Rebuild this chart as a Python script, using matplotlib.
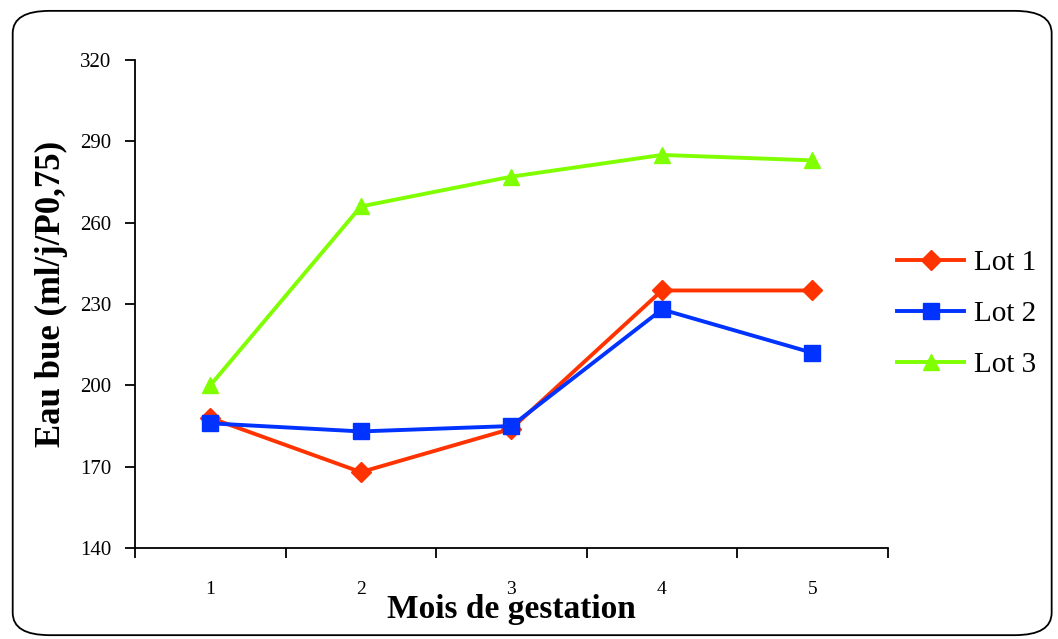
import matplotlib
matplotlib.use("Agg")
import matplotlib.pyplot as plt
from matplotlib.patches import FancyBboxPatch
from matplotlib.ticker import FixedLocator, NullFormatter

plt.rcParams['font.family'] = ['Liberation Serif', 'DejaVu Serif']

mois = [1, 2, 3, 4, 5]
lot1 = [188, 168, 184, 235, 235]
lot2 = [186, 183, 185, 228, 212]
lot3 = [200, 266, 277, 285, 283]

fig = plt.figure(figsize=(10.58, 6.39), dpi=100)

# rounded frame around the whole chart
frame = FancyBboxPatch((0.012, 0.006), 0.982, 0.977, boxstyle="round,pad=0,rounding_size=0.035",
                       transform=fig.transFigure, fill=False, edgecolor='black', linewidth=1.3)
fig.patches.append(frame)

ax = fig.add_axes([0.1276, 0.1424, 0.7115, 0.7636])
ax.plot(mois, lot1, color='#ff3300', lw=2.8, marker='D', ms=10, label='Lot 1')
ax.plot(mois, lot2, color='#0033ff', lw=2.8, marker='s', ms=12, label='Lot 2')
ax.plot(mois, lot3, color='#80ff00', lw=2.8, marker='^', ms=12, label='Lot 3')

ax.set_xlim(0.5, 5.5)
ax.set_ylim(140, 320)
ax.set_yticks([140, 170, 200, 230, 260, 290, 320])
ax.set_xticks(mois)
ax.xaxis.set_minor_locator(FixedLocator([0.5, 1.5, 2.5, 3.5, 4.5, 5.5]))
ax.xaxis.set_minor_formatter(NullFormatter())
ax.tick_params(axis='x', which='major', length=0, pad=24, labelsize=14)
ax.tick_params(axis='x', which='minor', length=7, width=1.3, direction='out')
ax.tick_params(axis='y', length=7, width=1.3, direction='out', labelsize=15, pad=10)

for side in ['top', 'right']:
    ax.spines[side].set_visible(False)
for side in ['left', 'bottom']:
    ax.spines[side].set_linewidth(1.3)

ax.set_ylabel('Eau bue (ml/j/P0,75)', fontsize=25, fontweight='bold')
ax.yaxis.set_label_coords(-0.089, 0.52)
ax.set_xlabel('Mois de gestation', fontsize=24, fontweight='bold', labelpad=-3)

fig.legend(*ax.get_legend_handles_labels(), loc='center left', bbox_to_anchor=(0.848, 0.509),
           bbox_transform=fig.transFigure, frameon=False, fontsize=21, borderpad=0,
           borderaxespad=0, handlelength=2.3, handletextpad=0.35, labelspacing=0.85)

fig.savefig('out.png', dpi=100)
